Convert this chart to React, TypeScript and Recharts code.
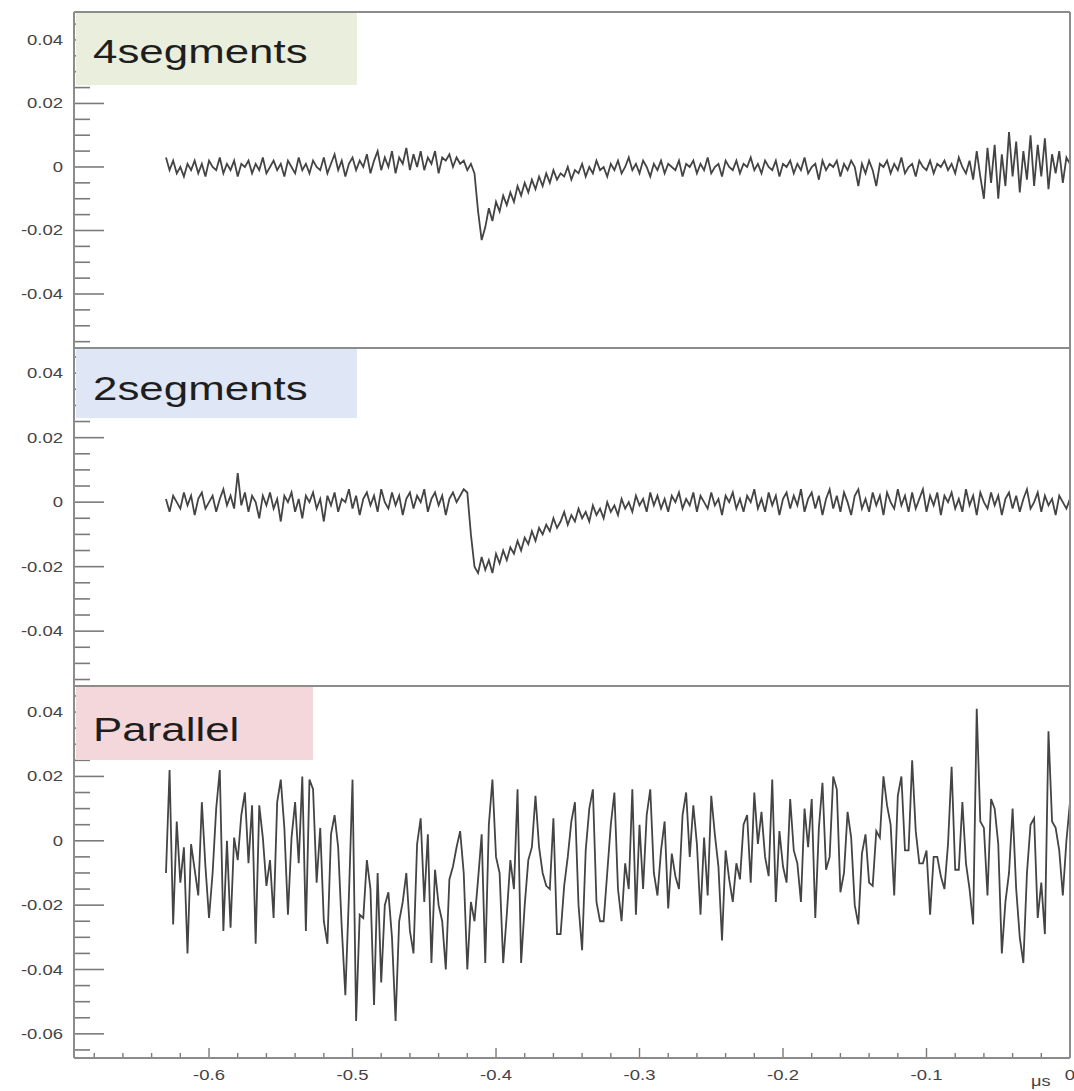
import React from "react";
import { LineChart, Line, XAxis, YAxis } from "recharts";

// sampling of the scope traces (μs)
const T_START = -0.63;
const T_STEP = 0.0025;
const X_MIN = -0.6934;
const X_MAX = 0;

// trace amplitudes, in units of 0.001, one sample per T_STEP from T_START
const fourSegMilli = [
  3, -1, 2, -2, 0, -3, 1, -1, 2, -2,
  1, -3, 2, 0, -1, 3, -2, 1, -1, 2,
  -3, 1, 0, 2, -2, 1, -1, 3, -2, 0,
  2, -1, 1, -3, 2, 0, -2, 3, -1, 1,
  -2, 2, 0, -1, 3, -2, 1, 4, -1, 2,
  -3, 1, 3, -1, 2, 0, 4, -2, 2, 5,
  -1, 3, 0, 5, -2, 3, 1, 6, -1, 4,
  0, 5, -1, 3, 1, 5, -2, 3, 2, 4,
  0, 3, 1, 2, -1, 1, -2, -14, -23, -19,
  -13, -17, -11, -14, -9, -12, -8, -11, -6, -9,
  -5, -8, -4, -7, -3, -6, -2, -5, -1, -4,
  -2, -3, 0, -4, -1, -2, 1, -3, 0, -2,
  2, -1, 0, -3, 1, -1, 2, -2, 0, 3,
  -1, 1, -2, 2, 0, -3, 1, -1, 2, -2,
  1, 0, -1, 2, -3, 1, 0, 2, -2, 1,
  -1, 3, -2, 0, 1, -3, 2, 0, -1, 2,
  -2, 1, 0, 3, -1, 1, -2, 2, 0, -1,
  2, -3, 1, 0, 2, -2, 1, -1, 3, -2,
  0, 1, -4, 2, -1, 1, 0, 2, -3, 1,
  -1, 2, 0, -6, 1, -2, 2, -1, -6, 1,
  0, 2, -2, 1, -1, 3, -2, 0, 1, -3,
  2, 0, -1, 2, -2, 1, 0, 2, -1, 1,
  -2, 3, 0, -2, 2, -4, 5, -3, -10, 6,
  -5, 7, -10, 4, -6, 11, -3, 8, -8, 5,
  -4, 10, -6, 7, -3, 9, -7, 4, -2, 5,
  -5, 3, 1,
];

const twoSegMilli = [
  1, -3, 2, 0, -2, 3, -1, 2, -4, 1,
  3, -2, 0, 2, -3, 1, 4, -1, 2, -2,
  9, -1, 3, -3, 2, 0, -5, 2, -1, 3,
  -2, 1, -6, 2, 0, 3, -3, 1, -5, 2,
  0, 3, -2, 1, -6, 2, -1, 3, -3, 1,
  0, 4, -2, 2, -4, 1, 3, -1, 2, -3,
  4, 0, -2, 3, -1, 2, -4, 1, 3, -2,
  2, 0, 4, -3, 1, 3, -1, 2, -4, 1,
  3, 0, 2, 4, 3, -10, -20, -22, -17, -21,
  -18, -22, -16, -19, -15, -18, -14, -16, -12, -15,
  -11, -13, -9, -12, -8, -10, -7, -9, -5, -8,
  -6, -3, -7, -4, -6, -2, -5, -3, -6, -1,
  -4, -2, -5, 0, -3, -1, -4, 1, -2, 0,
  -3, 2, -1, 1, -3, 3, -1, 2, -2, 1,
  -3, 2, 0, 3, -2, 1, -1, 3, -3, 2,
  0, -2, 3, -1, 1, -4, 2, 0, 3, -2,
  1, -3, 2, 0, 4, -2, 1, -3, 3, -1,
  2, -4, 1, 3, -2, 2, -1, 4, -3, 1,
  3, -2, 2, -4, 1, 4, -2, 2, -3, 3,
  0, -4, 2, 4, -2, 1, -3, 3, -1, 2,
  -4, 3, 0, -2, 4, -1, 2, -3, 3, -2,
  1, 4, -3, 2, -1, 3, -4, 2, 0, 3,
  -2, 1, -3, 4, -1, 2, -4, 3, 0, -2,
  3, -1, 2, -4, 1, 3, -2, 2, -3, 1,
  4, -2, 0, 3, -3, 2, -1, 1, -4, 2,
  0, -2, 1,
];

const parallelMilli = [
  -10, 22, -26, 6, -13, -2, -35, -1, -9, -17,
  12, -8, -24, -10, 10, 22, -28, 0, -27, 1,
  -6, 8, 15, -7, 11, -32, 11, 1, -14, -6,
  -24, 12, 19, 4, -23, 1, 12, -7, 20, -28,
  19, 16, -13, 4, -25, -32, 2, 8, -2, -27,
  -48, -17, 19, -56, -23, -24, -6, -15, -51, -10,
  -44, -20, -16, -30, -56, -25, -19, -10, -28, -35,
  -1, 7, -19, 2, -38, -9, -20, -25, -40, -12,
  -8, -2, 3, -10, -40, -19, -25, -12, 2, -38,
  5, 19, -5, -10, -38, -23, -6, -15, 16, -38,
  -20, -6, -2, 14, -2, -10, -14, -15, 7, -29,
  -29, -14, -5, 6, 12, -20, -34, -3, 10, 16,
  -19, -25, -25, -10, 5, 15, -15, -25, -7, -15,
  16, -23, 5, -15, 8, 16, -10, -17, -3, 6,
  -21, -4, -11, -15, 8, 15, -5, 11, -1, -23,
  1, -17, 14, 2, -8, -31, -3, -12, -19, -7,
  -12, 5, 8, -13, 15, -1, 9, -5, -11, 19,
  -19, 3, -8, -13, 13, -3, -7, -19, 10, -2,
  13, -24, 4, 18, -9, -5, 20, 16, -16, -10,
  9, 1, -20, -26, -4, 2, -13, -14, 3, 1,
  20, 11, 5, -17, 14, 20, -3, -3, 25, 3,
  -7, -7, -3, -23, -5, -5, -11, -15, -1, 23,
  -9, -9, 12, -7, -15, -26, 41, 6, 4, -17,
  13, 10, -1, -35, -19, -10, 10, -15, -30, -38,
  -10, 5, 7, -24, -13, -29, 34, 6, 4, -3,
  -17, 0, 12,
];

const xMajorTicks = [-0.6, -0.5, -0.4, -0.3, -0.2, -0.1, 0];
const xTickLabels = ["-0.6", "-0.5", "-0.4", "-0.3", "-0.2", "-0.1", "0"];
const xMinorTicks = [
  -0.68, -0.66, -0.64, -0.62, -0.58, -0.56, -0.54, -0.52, -0.48, -0.46, -0.44, -0.42,
  -0.38, -0.36, -0.34, -0.32, -0.28, -0.26, -0.24, -0.22, -0.18, -0.16, -0.14, -0.12,
  -0.08, -0.06, -0.04, -0.02,
];

const yMajorTicks = [-0.06, -0.04, -0.02, 0, 0.02, 0.04];
const yTickLabels = ["-0.06", "-0.04", "-0.02", "0", "0.02", "0.04"];
const yMinorTicks = [
  -0.065, -0.055, -0.05, -0.045, -0.035, -0.03, -0.025, -0.015, -0.01, -0.005,
  0.005, 0.01, 0.015, 0.025, 0.03, 0.035, 0.045,
];

const panelNames = ["4segments", "2segments", "Parallel"];
const panelColors = ["#e9eedd", "#dfe7f6", "#f3d7da"];

const PLOT_LEFT = 75;
const PLOT_RIGHT = 1070;
const FONT = '"Liberation Sans", Arial, Helvetica, sans-serif';

const toRows = (milli: number[]) =>
  milli.map((m, i) => ({ t: T_START + i * T_STEP, v: m / 1000 }));

const inside = (v: number, d: number[]) => v >= d[0] - 1e-9 && v <= d[1] + 1e-9;

function YTick(props: any) {
  const { y, payload } = props;
  const idx = yMajorTicks.findIndex((m) => Math.abs(m - payload.value) < 1e-6);
  const major = idx >= 0;
  return (
    <g>
      <line
        x1={PLOT_LEFT}
        x2={PLOT_LEFT + (major ? 29 : 15)}
        y1={y}
        y2={y}
        stroke="#7a7a7a"
        strokeWidth={1.6}
      />
      {major && (
        <text
          transform={`translate(${PLOT_LEFT - 12},${y + 5}) scale(1.32,1)`}
          textAnchor="end"
          fontSize={14}
          fontFamily={FONT}
          fill="#444444"
        >
          {yTickLabels[idx]}
        </text>
      )}
    </g>
  );
}

function makeXTick(base: number) {
  return (props: any) => {
    const { x, payload } = props;
    const idx = xMajorTicks.findIndex((m) => Math.abs(m - payload.value) < 1e-6);
    const major = idx >= 0;
    return (
      <g>
        <line x1={x} x2={x} y1={base} y2={base - (major ? 10 : 5)} stroke="#7a7a7a" strokeWidth={1.4} />
        {major && (
          <text
            transform={`translate(${x},${base + 22}) scale(1.32,1)`}
            textAnchor="middle"
            fontSize={14}
            fontFamily={FONT}
            fill="#444444"
          >
            {xTickLabels[idx]}
          </text>
        )}
      </g>
    );
  };
}

interface PanelProps {
  milli: number[];
  top: number;
  height: number;
  marginTop: number;
  domain: number[];
  showX?: boolean;
}

function Panel({ milli, top, height, marginTop, domain, showX = false }: PanelProps) {
  const rows = toRows(milli);
  const yTicks = [...yMajorTicks, ...yMinorTicks].filter((v) => inside(v, domain)).sort((a, b) => a - b);
  const xTicks = [...xMajorTicks, ...xMinorTicks].sort((a, b) => a - b);
  const xAxisHeight = 33;
  return (
    <div style={{ position: "absolute", left: 0, top, width: 1074, height }}>
      <LineChart
        width={1074}
        height={height}
        data={rows}
        margin={{ top: marginTop, right: 1074 - PLOT_RIGHT, bottom: 0, left: 0 }}
      >
        <XAxis
          dataKey="t"
          type="number"
          domain={[X_MIN, X_MAX]}
          allowDataOverflow
          hide={!showX}
          height={xAxisHeight}
          ticks={xTicks}
          interval={0}
          axisLine={false}
          tickLine={false}
          tick={makeXTick(height - xAxisHeight)}
        />
        <YAxis
          type="number"
          domain={domain}
          allowDataOverflow
          width={PLOT_LEFT}
          ticks={yTicks}
          interval={0}
          axisLine={false}
          tickLine={false}
          tick={(p: any) => <YTick {...p} />}
        />
        <Line
          type="linear"
          dataKey="v"
          stroke="#444444"
          strokeWidth={1.8}
          dot={false}
          isAnimationActive={false}
        />
      </LineChart>
    </div>
  );
}

export default function App() {
  const boxes = [
    { top: 13, bottom: 85, right: 357, baseline: 63 },
    { top: 349, bottom: 418, right: 357, baseline: 400 },
    { top: 687, bottom: 760, right: 313, baseline: 741 },
  ];
  return (
    <div
      style={{
        position: "absolute",
        left: 0,
        top: 0,
        width: 1074,
        height: 1091,
        background: "#ffffff",
        overflow: "hidden",
      }}
    >
      <Panel milli={fourSegMilli} top={0} height={348} marginTop={12} domain={[-0.057, 0.0488]} />
      <Panel milli={twoSegMilli} top={348} height={337} marginTop={0} domain={[-0.0567, 0.0478]} />
      <Panel milli={parallelMilli} top={686} height={405} marginTop={0} domain={[-0.0675, 0.0481]} showX />
      <svg
        width={1074}
        height={1091}
        style={{ position: "absolute", left: 0, top: 0, pointerEvents: "none" }}
      >
        {boxes.map((b, i) => (
          <g key={panelNames[i]}>
            <rect x={PLOT_LEFT + 1} y={b.top} width={b.right - PLOT_LEFT - 1} height={b.bottom - b.top} fill={panelColors[i]} />
            <text
              transform={`translate(93,${b.baseline}) scale(1.33,1)`}
              fontSize={33}
              fontFamily={FONT}
              fill="#1e1e1e"
            >
              {panelNames[i]}
            </text>
          </g>
        ))}
        <g stroke="#8c8c8c" strokeWidth={2} fill="none">
          <line x1={PLOT_LEFT - 1} x2={PLOT_LEFT - 1} y1={12} y2={1058} />
          <line x1={PLOT_RIGHT} x2={PLOT_RIGHT} y1={12} y2={1058} />
          <line x1={PLOT_LEFT - 1} x2={PLOT_RIGHT} y1={12} y2={12} />
          <line x1={PLOT_LEFT - 1} x2={PLOT_RIGHT} y1={348} y2={348} />
          <line x1={PLOT_LEFT - 1} x2={PLOT_RIGHT} y1={686} y2={686} />
          <line x1={PLOT_LEFT - 1} x2={PLOT_RIGHT} y1={1058} y2={1058} />
        </g>
        <text
          transform="translate(1031,1086) scale(1.3,1)"
          fontSize={14}
          fontFamily={FONT}
          fill="#444444"
        >
          μs
        </text>
      </svg>
    </div>
  );
}
